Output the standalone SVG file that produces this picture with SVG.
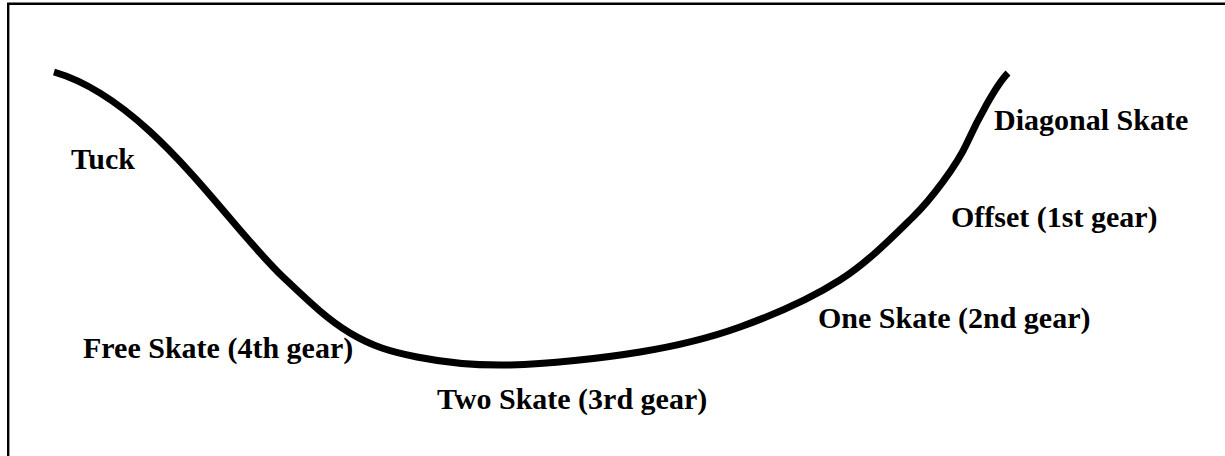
<svg xmlns="http://www.w3.org/2000/svg" width="1225" height="456" viewBox="0 0 1225 456">
<style>
.lbl{font-family:"Liberation Serif","Times New Roman",serif;font-weight:bold;font-size:30px;fill:#000}
.curve{fill:none;stroke:#000;stroke-width:7}
.frame{fill:none;stroke:#000;stroke-width:2.4}
</style>
<rect width="1225" height="456" fill="#fff"/>
<path class="frame" d="M8.2 456 V3.8 H1225"/>
<g id="connectors">
<path class="curve" d="M54 72 C150 100,225 222,283 277 C309.7 302.3,327.7 319.7,350 333 C372.3 346.3,390.3 351.7,417 357 C443.7 362.3,472.8 365.8,510 365 C547.2 364.2,601.7 358.3,640 352 C678.3 345.7,706.7 339,740 327 C773.3 315,811.2 298.3,840 280 C868.8 261.7,895.2 234.2,913 217 C931 199.5,957 165,967 143 C977 121,996 85,1008 73"/>
</g>
<g id="tuck"><text class="lbl" x="71" y="169">Tuck</text></g>
<g id="diagonal"><text class="lbl" x="994" y="130">Diagonal Skate</text></g>
<g id="offset"><text class="lbl" x="951" y="227">Offset (1st gear)</text></g>
<g id="one-skate"><text class="lbl" x="818" y="328">One Skate (2nd gear)</text></g>
<g id="free-skate"><text class="lbl" x="83" y="358">Free Skate (4th gear)</text></g>
<g id="two-skate"><text class="lbl" x="437" y="409">Two Skate (3rd gear)</text></g>
</svg>
